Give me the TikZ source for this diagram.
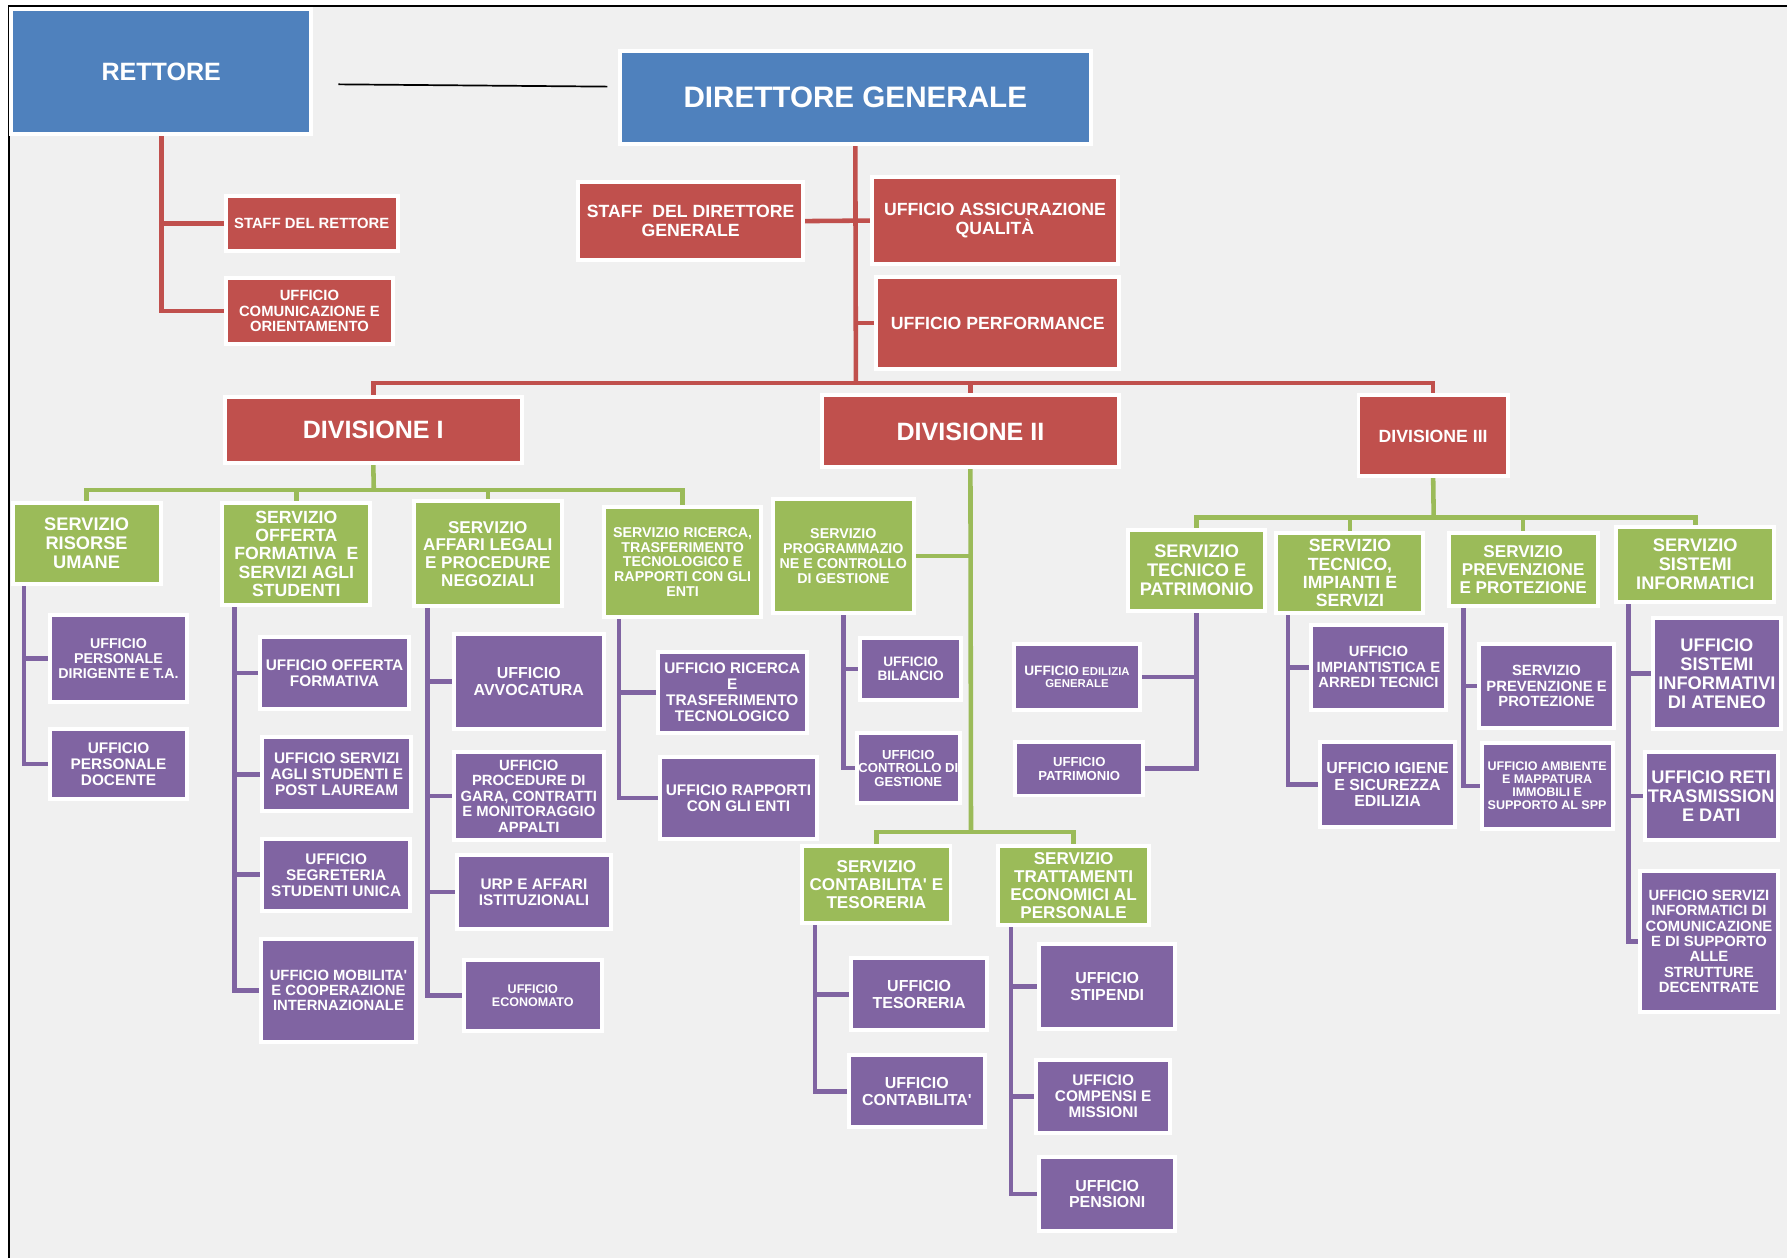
\documentclass[tikz,border=0pt]{standalone}
\usepackage{fontspec}
\setmainfont{Liberation Sans}
\definecolor{cblue}{HTML}{4F81BD}
\definecolor{cred}{HTML}{C0504D}
\definecolor{cgreen}{HTML}{9BBB59}
\definecolor{cpurple}{HTML}{8064A2}
\definecolor{cbg}{HTML}{F0F0F0}
\pgfdeclarelayer{back}
\pgfdeclarelayer{lines}
\pgfsetlayers{back,lines,main}
\newcommand\ap{\XeTeXglyph\XeTeXcharglyph"0027\relax}
\newcommand\bx[7]{\node[#6, minimum width={#4-#2}, minimum height={#5-#3}] (#1) at ({(#2+#4)/2},{(#3+#5)/2}) {#7};}
\begin{document}
\begin{tikzpicture}[x=1pt,y=-1pt,
  box/.style={rectangle, draw=white, line width=3.5pt, text=white, align=center, inner sep=0.5pt, outer sep=0pt},
  bluebox/.style={box, fill=cblue},
  redbox/.style={box, fill=cred},
  greenbox/.style={box, fill=cgreen},
  purplebox/.style={box, fill=cpurple},
  fz/.code={\pgfmathsetmacro\myb{1.04*#1}\edef\myfont{\noexpand\bfseries\noexpand\fontsize{#1}{\myb}\noexpand\selectfont}\tikzset{font/.expand once=\myfont}},
  rline/.style={draw=cred, line width=4pt},
  gline/.style={draw=cgreen, line width=4pt},
  pline/.style={draw=cpurple, line width=4pt},
]
\useasboundingbox (0,0) rectangle (1568,1104);
\begin{pgfonlayer}{back}
\fill[white] (0,0) rectangle (1568,1104);
\fill[cbg] (8,5) rectangle (1568,1104);
\draw[black, line width=1.5pt] (8,1104) -- (8,5) -- (1568,5);
\end{pgfonlayer}

% top level
\bx{rett}{10}{8}{273}{118}{bluebox,fz=22}{RETTORE}
\bx{dg}{544}{45}{957}{126}{bluebox,fz=26}{DIRETTORE GENERALE}
\bx{sr}{198}{172}{349}{220}{redbox,fz=13}{STAFF DEL RETTORE}
\bx{ucom}{198}{244}{345}{302}{redbox,fz=13}{UFFICIO\\COMUNICAZIONE E\\ORIENTAMENTO}
\bx{sdg}{507}{160}{705}{228}{redbox,fz=15.5}{STAFF~ DEL DIRETTORE\\GENERALE}
\bx{uaq}{765}{155}{981}{232}{redbox,fz=15.5}{UFFICIO ASSICURAZIONE\\QUALITÀ}
\bx{uperf}{769}{243}{982}{324}{redbox,fz=15.5}{UFFICIO PERFORMANCE}
\bx{d1}{197}{348}{458}{406}{redbox,fz=22}{DIVISIONE I}
\bx{d2}{721}{347}{982}{410}{redbox,fz=22}{DIVISIONE II}
\bx{d3}{1192}{347}{1323}{418}{redbox,fz=15.5}{DIVISIONE III}

% servizi
\bx{sru}{11}{441}{141}{512}{greenbox,fz=16}{SERVIZIO\\RISORSE\\UMANE}
\bx{sof}{195}{441}{325}{531}{greenbox,fz=15.5}{SERVIZIO\\OFFERTA\\FORMATIVA~ E\\SERVIZI AGLI\\STUDENTI}
\bx{sal}{363}{440}{493}{532}{greenbox,fz=15}{SERVIZIO\\AFFARI LEGALI\\E PROCEDURE\\NEGOZIALI}
\bx{sric}{530}{445}{668}{541}{greenbox,fz=12.5}{SERVIZIO RICERCA,\\TRASFERIMENTO\\TECNOLOGICO E\\RAPPORTI CON GLI\\ENTI}
\bx{spcg}{678}{438}{802}{538}{greenbox,fz=12.5}{SERVIZIO\\PROGRAMMAZIO\\NE E CONTROLLO\\DI GESTIONE}
\bx{sct}{704}{742}{834}{810}{greenbox,fz=15}{SERVIZIO\\CONTABILITA\ap{} E\\TESORERIA}
\bx{strat}{876}{742}{1008}{812}{greenbox,fz=15}{SERVIZIO\\TRATTAMENTI\\ECONOMICI AL\\PERSONALE}
\bx{stp}{990}{465}{1110}{536}{greenbox,fz=16}{SERVIZIO\\TECNICO E\\PATRIMONIO}
\bx{stis}{1120}{468}{1249}{538}{greenbox,fz=15.5}{SERVIZIO\\TECNICO,\\IMPIANTI E\\SERVIZI}
\bx{sprev}{1271}{468}{1402}{532}{greenbox,fz=15}{SERVIZIO\\PREVENZIONE\\E PROTEZIONE}
\bx{ssi}{1418}{462}{1557}{528}{greenbox,fz=16}{SERVIZIO\\SISTEMI\\INFORMATICI}

% uffici
\bx{upd}{44}{540}{164}{616}{purplebox,fz=12.5}{UFFICIO\\PERSONALE\\DIRIGENTE E T.A.}
\bx{updoc}{44}{640}{164}{701}{purplebox,fz=13.5}{UFFICIO\\PERSONALE\\DOCENTE}
\bx{uof}{228}{559}{359}{622}{purplebox,fz=13.5}{UFFICIO OFFERTA\\FORMATIVA}
\bx{usas}{230}{647}{361}{712}{purplebox,fz=13.5}{UFFICIO SERVIZI\\AGLI STUDENTI E\\POST LAUREAM}
\bx{useg}{230}{736}{360}{799}{purplebox,fz=13.5}{UFFICIO\\SEGRETERIA\\STUDENTI UNICA}
\bx{umob}{229}{824}{365}{914}{purplebox,fz=13}{UFFICIO MOBILITA\ap\\E COOPERAZIONE\\INTERNAZIONALE}
\bx{uavv}{398}{556}{530}{640}{purplebox,fz=14}{UFFICIO\\AVVOCATURA}
\bx{ugara}{398}{660}{530}{737}{purplebox,fz=13}{UFFICIO\\PROCEDURE DI\\GARA, CONTRATTI\\E MONITORAGGIO\\APPALTI}
\bx{urp}{401}{750}{536}{815}{purplebox,fz=13.5}{URP E AFFARI\\ISTITUZIONALI}
\bx{uecon}{407}{842}{528}{905}{purplebox,fz=11}{UFFICIO\\ECONOMATO}
\bx{uric}{577}{572}{708}{643}{purplebox,fz=13.5}{UFFICIO RICERCA\\E\\TRASFERIMENTO\\TECNOLOGICO}
\bx{urapp}{579}{664}{717}{736}{purplebox,fz=13.5}{UFFICIO RAPPORTI\\CON GLI ENTI}
\bx{ubil}{755}{560}{843}{614}{purplebox,fz=12}{UFFICIO\\BILANCIO}
\bx{ucdg}{752}{643}{842}{705}{purplebox,fz=11.5}{UFFICIO\\CONTROLLO DI\\GESTIONE}
\bx{utes}{747}{841}{866}{904}{purplebox,fz=14}{UFFICIO\\TESORERIA}
\bx{ucont}{745}{926}{864}{989}{purplebox,fz=14}{UFFICIO\\CONTABILITA\ap}
\bx{ustip}{912}{828}{1031}{903}{purplebox,fz=14}{UFFICIO\\STIPENDI}
\bx{ucomp}{909}{930}{1027}{994}{purplebox,fz=13.5}{UFFICIO\\COMPENSI E\\MISSIONI}
\bx{upens}{912}{1015}{1031}{1080}{purplebox,fz=14}{UFFICIO\\PENSIONI}
\bx{uedil}{890}{565}{1000}{623}{purplebox,fz=10}{{\fontsize{12}{12}\selectfont UFFICIO} EDILIZIA\\GENERALE}
\bx{upatr}{891}{651}{1003}{698}{purplebox,fz=11.5}{UFFICIO\\PATRIMONIO}
\bx{uimp}{1150}{548}{1269}{623}{purplebox,fz=13}{UFFICIO\\IMPIANTISTICA E\\ARREDI TECNICI}
\bx{uig}{1158}{651}{1277}{726}{purplebox,fz=14}{UFFICIO IGIENE\\E SICUREZZA\\EDILIZIA}
\bx{sprevb}{1298}{565}{1416}{639}{purplebox,fz=13}{SERVIZIO\\PREVENZIONE E\\PROTEZIONE}
\bx{uamb}{1300}{652}{1415}{727}{purplebox,fz=11}{UFFICIO AMBIENTE\\E MAPPATURA\\IMMOBILI E\\SUPPORTO AL SPP}
\bx{usia}{1450}{542}{1563}{640}{purplebox,fz=16}{UFFICIO\\SISTEMI\\INFORMATIVI\\DI ATENEO}
\bx{ureti}{1443}{660}{1560}{737}{purplebox,fz=16}{UFFICIO RETI\\TRASMISSION\\E DATI}
\bx{usic}{1439}{764}{1560}{888}{purplebox,fz=13}{UFFICIO SERVIZI\\INFORMATICI DI\\COMUNICAZIONE\\E DI SUPPORTO\\ALLE\\STRUTTURE\\DECENTRATE}

\coordinate (dl) at (751,336);
\coordinate (g1) at (328,430);
\coordinate (g2) at (852,730);
\coordinate (g3) at (1258,454);

\begin{pgfonlayer}{lines}
\draw[black, line width=1.5pt] ([xshift=24pt,yshift=-11pt]rett.east) -- ([xshift=-11pt,yshift=9.5pt]dg.west);
% red
\draw[rline] (rett.south) |- (sr.west);
\draw[rline] (rett.south) |- (ucom.west);
\draw[rline] (dg.south) -- (dl);
\draw[rline] (sdg.east) -- (uaq.west);
\draw[rline] (dg.south |- uperf.west) -- (uperf.west);
\draw[rline] (d1.north) |- (dl);
\draw[rline] (d3.north) |- (dl);
\draw[rline] (d2.north) -- (d2.north |- dl);
% green
\draw[gline] (d1.south) -- (g1);
\draw[gline] (sru.north) |- (g1);
\draw[gline] (sric.north) |- (g1);
\draw[gline] (sof.north) -- (sof.north |- g1);
\draw[gline] (sal.north) -- (sal.north |- g1);
\draw[gline] (d2.south) -- (g2);
\draw[gline] (sct.north) |- (g2);
\draw[gline] (strat.north) |- (g2);
\draw[gline] (spcg.east) -- (spcg.east -| g2);
\draw[gline] (d3.south) -- (g3);
\draw[gline] (stp.north) |- (g3);
\draw[gline] (ssi.north) |- (g3);
\draw[gline] (stis.north) -- (stis.north |- g3);
\draw[gline] (sprev.north) -- (sprev.north |- g3);
% purple
\draw[pline] ([xshift=10pt]sru.south west) |- (upd.west);
\draw[pline] ([xshift=10pt]sru.south west) |- (updoc.west);
\foreach \c in {uof,usas,useg,umob} \draw[pline] ([xshift=11pt]sof.south west) |- (\c.west);
\foreach \c in {uavv,ugara,urp,uecon} \draw[pline] ([xshift=12pt]sal.south west) |- (\c.west);
\foreach \c in {uric,urapp} \draw[pline] ([xshift=13pt]sric.south west) |- (\c.west);
\foreach \c in {ubil,ucdg} \draw[pline] (spcg.south) |- (\c.west);
\foreach \c in {utes,ucont} \draw[pline] ([xshift=11pt]sct.south west) |- (\c.west);
\foreach \c in {ustip,ucomp,upens} \draw[pline] ([xshift=11pt]strat.south west) |- (\c.west);
\foreach \c in {uedil,upatr} \draw[pline] (stp.south) |- (\c.east);
\foreach \c in {uimp,uig} \draw[pline] ([xshift=10pt]stis.south west) |- (\c.west);
\foreach \c in {sprevb,uamb} \draw[pline] ([xshift=13pt]sprev.south west) |- (\c.west);
\foreach \c in {usia,ureti,usic} \draw[pline] ([xshift=11pt]ssi.south west) |- (\c.west);
\end{pgfonlayer}
\end{tikzpicture}
\end{document}
